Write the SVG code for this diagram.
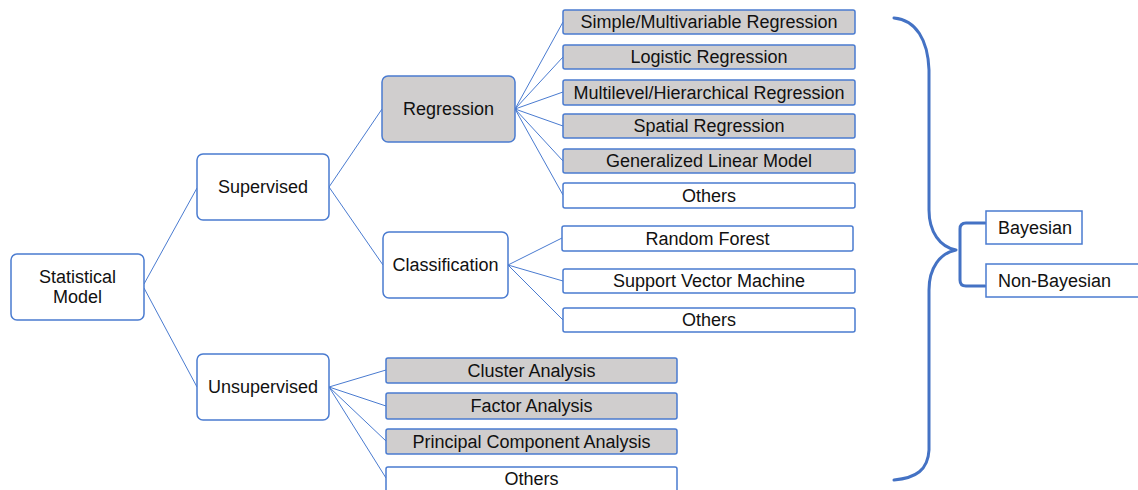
<svg xmlns="http://www.w3.org/2000/svg" width="1138" height="490" viewBox="0 0 1138 490">
<style>
.n{fill:#fff;stroke:#4a7bd0;stroke-width:1.5}
.g{fill:#d0cece;stroke:#4a7bd0;stroke-width:1.5}
.t{font-family:"Liberation Sans",Arial,sans-serif;font-size:18px;fill:#111;text-anchor:middle;dominant-baseline:central}
.l{text-anchor:start}
.c{stroke:#4a7bd0;stroke-width:1;fill:none}
.b{stroke:#4472c4;stroke-width:3;fill:none;stroke-linecap:round;stroke-linejoin:round}
</style>
<rect width="1138" height="490" fill="#fff"/>
<g id="connectors">
<path class="c" d="M144,284 L197,188 M144,288 L197,387"/>
<path class="c" d="M329,187 L382,109 M329,187 L383,265"/>
<path class="c" d="M515,109 L563,22 M515,109 L563,57 M515,109 L563,92 M515,109 L563,126 M515,109 L563,161 M515,109 L563,195"/>
<path class="c" d="M508,265 L562,238 M508,265 L563,281 M508,265 L563,320"/>
<path class="c" d="M329,387 L386,370 M329,387 L386,406 M329,387 L386,441 M329,387 L386,478"/>
<path class="b" d="M894,18 C916,20 928,40 929,70 L929,210 C929,232 940,247 956,250 C940,253 929,268 929,290 L929,450 C928,470 916,478 894,480"/>
<path class="b" d="M985,223 L966,223 Q960,223 960,229 L960,280 Q960,286 966,286 L985,286"/>
</g>
<g id="statistical-model"><rect class="n" x="11" y="254" width="133" height="66" rx="6"/><text class="t" x="77.5" y="277">Statistical</text><text class="t" x="77.5" y="297">Model</text></g>
<g id="supervised"><rect class="n" x="197" y="154" width="132" height="66" rx="6"/><text class="t" x="263" y="187">Supervised</text></g>
<g id="unsupervised"><rect class="n" x="197" y="354" width="132" height="66" rx="6"/><text class="t" x="263" y="387">Unsupervised</text></g>
<g id="regression"><rect class="g" x="382" y="76" width="133" height="66" rx="6"/><text class="t" x="448.5" y="109">Regression</text></g>
<g id="classification"><rect class="n" x="383" y="232" width="125" height="66" rx="6"/><text class="t" x="445.5" y="265">Classification</text></g>
<g id="simple-regression"><rect class="g" x="563" y="10" width="292" height="24" rx="2"/><text class="t" x="709" y="22">Simple/Multivariable Regression</text></g>
<g id="logistic-regression"><rect class="g" x="563" y="45" width="292" height="24" rx="2"/><text class="t" x="709" y="57">Logistic Regression</text></g>
<g id="multilevel-regression"><rect class="g" x="563" y="80" width="292" height="25" rx="2"/><text class="t" x="709" y="92.5">Multilevel/Hierarchical Regression</text></g>
<g id="spatial-regression"><rect class="g" x="563" y="114" width="292" height="24" rx="2"/><text class="t" x="709" y="126">Spatial Regression</text></g>
<g id="glm"><rect class="g" x="563" y="149" width="292" height="24" rx="2"/><text class="t" x="709" y="161">Generalized Linear Model</text></g>
<g id="regression-others"><rect class="n" x="563" y="183" width="292" height="25" rx="2"/><text class="t" x="709" y="195.5">Others</text></g>
<g id="random-forest"><rect class="n" x="562" y="226" width="291" height="25" rx="2"/><text class="t" x="707.5" y="238.5">Random Forest</text></g>
<g id="svm"><rect class="n" x="563" y="269" width="292" height="24" rx="2"/><text class="t" x="709" y="281">Support Vector Machine</text></g>
<g id="classification-others"><rect class="n" x="563" y="308" width="292" height="24" rx="2"/><text class="t" x="709" y="320">Others</text></g>
<g id="cluster-analysis"><rect class="g" x="386" y="358" width="291" height="25" rx="2"/><text class="t" x="531.5" y="370.5">Cluster Analysis</text></g>
<g id="factor-analysis"><rect class="g" x="386" y="393" width="291" height="26" rx="2"/><text class="t" x="531.5" y="406">Factor Analysis</text></g>
<g id="pca"><rect class="g" x="386" y="429" width="291" height="25" rx="2"/><text class="t" x="531.5" y="441.5">Principal Component Analysis</text></g>
<g id="unsupervised-others"><rect class="n" x="386" y="467" width="291" height="26" rx="2"/><text class="t" x="531.5" y="479">Others</text></g>
<g id="bayesian"><rect class="n" x="986" y="211" width="96" height="33" rx="0"/><text class="t l" x="998" y="228">Bayesian</text></g>
<g id="non-bayesian"><rect class="n" x="986" y="264" width="160" height="33" rx="0"/><text class="t l" x="998" y="281">Non-Bayesian</text></g>
</svg>
